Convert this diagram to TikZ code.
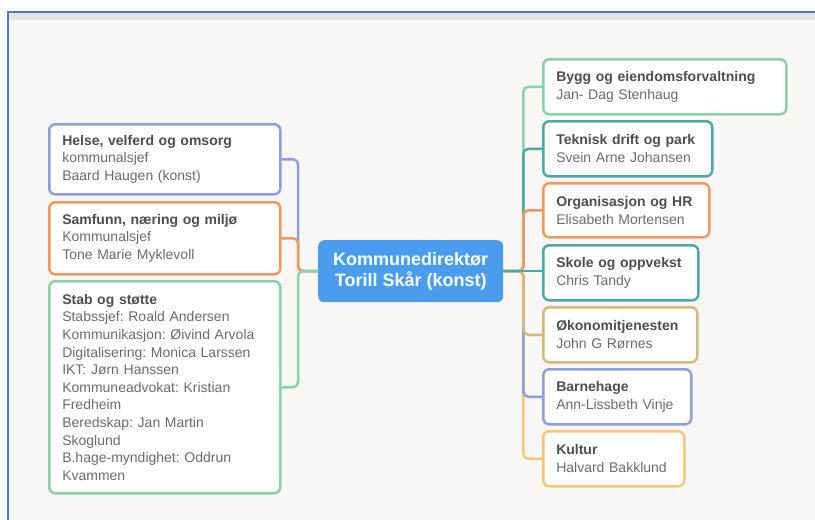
\documentclass[tikz,border=0pt]{standalone}
\usepackage{fontspec}
\setmainfont{Liberation Sans}
\definecolor{cblue}{HTML}{8E9FD8}
\definecolor{corange}{HTML}{F0995E}
\definecolor{cgreen}{HTML}{8AD0A8}
\definecolor{cteal}{HTML}{4FA8A8}
\definecolor{ctan}{HTML}{D8B77C}
\definecolor{cyellow}{HTML}{F5C67C}
\definecolor{ccenter}{HTML}{4A9CEF}
\definecolor{txtgrey}{HTML}{6B6B6B}
\definecolor{titlegrey}{HTML}{4E4E4E}
\definecolor{bgcol}{HTML}{F8F7F5}
\definecolor{bandcol}{HTML}{E3E3E3}
\definecolor{framecol}{HTML}{4A7BD0}
\tikzset{
  orgbox/.style={draw=#1, line width=2.5pt, rounded corners=6pt, fill=white,
    inner xsep=13pt, inner ysep=3pt, align=left, anchor=north west,
    font=\frenchspacing\fontsize{14}{17.6}\selectfont, text=txtgrey},
  centerbox/.style={fill=ccenter, rounded corners=6pt, align=center,
    minimum width=185pt, minimum height=62pt, anchor=north west,
    font=\fontsize{18}{21.5}\selectfont\bfseries, text=white},
  conn/.style={draw=#1, line width=2.5pt, rounded corners=5pt},
}
\newcommand{\ttl}[1]{{\bfseries\color{titlegrey}#1}}
\begin{document}
\begin{tikzpicture}[x=1pt,y=-1pt]
\useasboundingbox (0,0) rectangle (815,520);
% background and frame
\fill[white] (0,0) rectangle (815,520);
\fill[bgcol] (8,12) rectangle (815,520);
\fill[bandcol] (8,12) rectangle (815,20);
\draw[framecol, line width=2pt] (8,520) -- (8,12) -- (815,12);

% center
\node[centerbox] (center) at (318,240) {Kommunedirektør\\Torill Skår (konst)};

% left boxes
\node[orgbox=cblue, text width=205pt, minimum height=70pt] (helse) at (48,123)
  {\ttl{Helse, velferd og omsorg}\\kommunalsjef\\Baard Haugen (konst)};
\node[orgbox=corange, text width=205pt, minimum height=72pt] (samfunn) at (48,201)
  {\ttl{Samfunn, næring og miljø}\\Kommunalsjef\\Tone Marie Myklevoll};
\node[orgbox=cgreen, text width=205pt, minimum height=212pt] (stab) at (48,280)
  {\ttl{Stab og støtte}\\Stabssjef: Roald Andersen\\Kommunikasjon: Øivind Arvola\\Digitalisering: Monica Larssen\\IKT: Jørn Hanssen\\Kommuneadvokat: Kristian\\Fredheim\\Beredskap: Jan Martin\\Skoglund\\B.hage-myndighet: Oddrun\\Kvammen};

% right boxes
\node[orgbox=cgreen, text width=217pt, minimum height=55pt] (bygg) at (542,58)
  {\ttl{Bygg og eiendomsforvaltning}\\Jan- Dag Stenhaug};
\node[orgbox=cteal, text width=143pt, minimum height=55pt] (teknisk) at (542,120)
  {\ttl{Teknisk drift og park}\\Svein Arne Johansen};
\node[orgbox=corange, text width=140pt, minimum height=54pt] (org) at (542,182)
  {\ttl{Organisasjon og HR}\\Elisabeth Mortensen};
\node[orgbox=cteal, text width=129pt, minimum height=55pt] (skole) at (542,244)
  {\ttl{Skole og oppvekst}\\Chris Tandy};
\node[orgbox=ctan, text width=128pt, minimum height=55pt] (okon) at (542,306)
  {\ttl{Økonomitjenesten}\\John G Rørnes};
\node[orgbox=cblue, text width=122pt, minimum height=55pt] (barn) at (542,368)
  {\ttl{Barnehage}\\Ann-Lissbeth Vinje};
\node[orgbox=cyellow, text width=115pt, minimum height=55pt] (kultur) at (542,430)
  {\ttl{Kultur}\\Halvard Bakklund};

% connectors left
\draw[conn=cblue] (center.west) -- ++(-20,0) |- (helse.east);
\draw[conn=corange] (center.west) -- ++(-20,0) |- (samfunn.east);
\draw[conn=cgreen] (center.west) -- ++(-20,0) |- (stab.east);
% connectors right
\draw[conn=cgreen] (center.east) -- ++(20,0) |- (bygg.west);
\draw[conn=cteal] (center.east) -- ++(20,0) |- (teknisk.west);
\draw[conn=corange] (center.east) -- ++(20,0) |- (org.west);
\draw[conn=cyellow] (center.east) -- ++(20,0) |- (kultur.west);
\draw[conn=cblue] (center.east) -- ++(20,0) |- (barn.west);
\draw[conn=ctan] (center.east) -- ++(20,0) |- (okon.west);
\draw[conn=cteal] (center.east) -- (center.east -| skole.west);
\end{tikzpicture}
\end{document}
